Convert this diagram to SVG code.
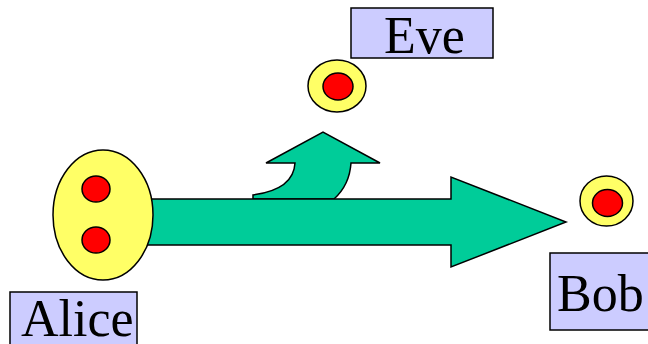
<svg xmlns="http://www.w3.org/2000/svg" width="648" height="344" viewBox="0 0 648 344">
  <style>
    .arrow { fill: #00CC99; stroke: #000; stroke-width: 1.5; stroke-linejoin: miter; }
    .party { fill: #FFFF66; stroke: #000; stroke-width: 1.5; }
    .bit { fill: #FF0000; stroke: #000; stroke-width: 1.5; }
    .tag { fill: #CCCCFF; stroke: #000; stroke-width: 1.5; }
    .name { font-family: "Liberation Serif", "Times New Roman", serif; font-size: 52px; fill: #000; }
  </style>

  <!-- connectors: the main channel and the eavesdropping branch -->
  <g id="connectors">
    <path id="tap" class="arrow" d="M253,199 L253,195 C275,192 294,183 295,163 L266,163 L323,132 L380,163 L351,163 C350,178 344,190 334,199 Z"/>
    <path id="channel" class="arrow" d="M140,199 L451,199 L451,177 L566,222 L451,267 L451,245 L140,245 Z"/>
  </g>

  <g id="alice">
    <ellipse class="party" cx="103" cy="215" rx="50" ry="65"/>
    <ellipse class="bit" cx="96" cy="189" rx="14" ry="13"/>
    <ellipse class="bit" cx="96" cy="240" rx="14" ry="13"/>
  </g>
  <g id="alice-label">
    <rect class="tag" x="10" y="292" width="127" height="60"/>
    <text class="name" x="21" y="336">Alice</text>
  </g>

  <g id="eve">
    <ellipse class="party" cx="337" cy="86" rx="29" ry="26"/>
    <ellipse class="bit" cx="338" cy="86.5" rx="15" ry="13.5"/>
  </g>
  <g id="eve-label">
    <rect class="tag" x="351" y="8" width="142" height="50"/>
    <text class="name" x="384" y="53">Eve</text>
  </g>

  <g id="bob">
    <ellipse class="party" cx="606.5" cy="201" rx="26.5" ry="25"/>
    <ellipse class="bit" cx="607.5" cy="203" rx="15" ry="13.5"/>
  </g>
  <g id="bob-label">
    <rect class="tag" x="550" y="253" width="110" height="77"/>
    <text class="name" x="557" y="311">Bob</text>
  </g>
</svg>
